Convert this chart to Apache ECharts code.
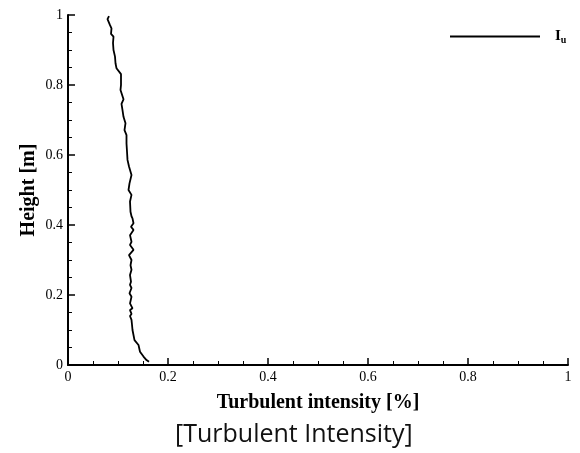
<!DOCTYPE html>
<html><head><meta charset="utf-8">
<script src="https://cdn.jsdelivr.net/npm/echarts@6/dist/echarts.min.js"></script>
<style>html,body{margin:0;padding:0;background:#fff}#c{width:580px;height:453px}</style>
</head><body><div id="c"></div>
<script>
// Turbulent intensity (x) vs height (y)
const intensity = [0.082,0.079,0.084,0.087,0.086,0.091,0.090,0.091,0.094,0.095,0.097,0.097,0.106,0.106,0.105,0.102,0.111,0.107,0.109,0.111,0.115,0.113,0.117,0.117,0.118,0.119,0.122,0.127,0.123,0.121,0.127,0.124,0.125,0.127,0.129,0.131,0.126,0.131,0.124,0.127,0.124,0.131,0.122,0.127,0.125,0.127,0.124,0.126,0.124,0.127,0.123,0.127,0.124,0.129,0.124,0.127,0.124,0.127,0.128,0.129,0.133,0.141,0.144,0.151,0.157,0.162];
const height    = [0.997,0.988,0.971,0.962,0.946,0.938,0.920,0.900,0.881,0.862,0.848,0.843,0.831,0.800,0.786,0.781,0.759,0.746,0.728,0.709,0.691,0.671,0.657,0.633,0.610,0.586,0.567,0.543,0.519,0.500,0.486,0.467,0.438,0.425,0.419,0.405,0.395,0.386,0.371,0.352,0.343,0.329,0.314,0.300,0.285,0.272,0.257,0.238,0.229,0.220,0.205,0.195,0.176,0.162,0.157,0.146,0.140,0.129,0.115,0.100,0.071,0.057,0.038,0.024,0.014,0.009];
const seriesName = 'Iu';
const xTitle = 'Turbulent intensity [%]';
const yTitle = 'Height [m]';
const caption = '[Turbulent Intensity]';

const serif = '"Liberation Serif","Times New Roman",serif';
const data = intensity.map((v,i)=>[v,height[i]]);
const chart = echarts.init(document.getElementById('c'), null, {renderer:'canvas'});
const axisCommon = {
  type:'value', min:0, max:1, interval:0.2,
  axisLine:{show:true, lineStyle:{color:'#000', width:2}},
  axisTick:{show:true, inside:true, length:7, lineStyle:{color:'#000', width:1.5}},
  minorTick:{show:true, splitNumber:4, length:4, lineStyle:{color:'#000', width:1}},
  splitLine:{show:false},
  axisLabel:{color:'#000', fontFamily:serif, fontSize:14, margin:5,
    formatter:v=>String(Math.round(v*10)/10)},
  nameLocation:'middle',
  nameMoveOverlap:false,
  nameTextStyle:{color:'#000', fontFamily:serif, fontWeight:'bold', fontSize:20}
};
chart.setOption({
  animation:false,
  backgroundColor:'#fff',
  grid:{left:68, right:12, top:15, bottom:88, containLabel:false},
  xAxis:Object.assign({}, axisCommon, {name:xTitle, nameGap:28}),
  yAxis:Object.assign({}, axisCommon, {name:yTitle, nameGap:29}),
  legend:{show:true, left:445, top:24, itemWidth:90, itemHeight:2, icon:'rect',
    data:[seriesName],
    formatter:()=> '{a|I}{b|u}',
    textStyle:{color:'#000', fontFamily:serif, fontWeight:'bold',
      rich:{a:{fontFamily:serif, fontWeight:'bold', fontSize:15, padding:[0,0,0,10]},
            b:{fontFamily:serif, fontWeight:'bold', fontSize:10, padding:[8,0,0,0]}}}},
  graphic:[{type:'text', left:175, top:422,
    style:{text:caption, font:'25px "Open Sans","Noto Sans",sans-serif', fill:'#111'}}],
  series:[{name:seriesName, type:'line', data:data, showSymbol:false, smooth:false,
    lineStyle:{color:'#000', width:1.8}, itemStyle:{color:'#000'}}]
});
</script></body></html>
